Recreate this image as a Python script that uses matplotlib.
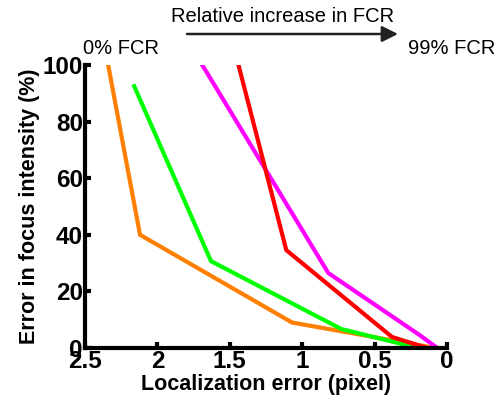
import matplotlib
matplotlib.use("Agg")
import matplotlib.pyplot as plt

plt.rcParams['font.family'] = ['Liberation Sans', 'DejaVu Sans']

orange_x = [2.34, 2.12, 1.07, 0.08]
orange_y = [100, 40, 9, 0]
green_x = [2.16, 1.63, 0.73, 0.20]
green_y = [92.5, 30.7, 6.7, 0]
magenta_x = [1.69, 0.82, 0.19, 0.08]
magenta_y = [100, 26.5, 4.6, 0.5]
red_x = [1.44, 1.11, 0.38, 0.15]
red_y = [100, 34.6, 3.9, 0.2]

xticks = [2.5, 2, 1.5, 1, 0.5, 0]
xticklabels = ['2.5', '2', '1.5', '1', '0.5', '0']
yticks = [0, 20, 40, 60, 80, 100]

fig = plt.figure(figsize=(4.96, 4.04), dpi=100)
ax = fig.add_axes([85/496, 1-348/404, (447-85)/496, (348-65)/404])

lw = 3
ax.plot(orange_x, orange_y, color='#FF8000', lw=lw, solid_joinstyle='miter')
ax.plot(green_x, green_y, color='#00FF00', lw=lw, solid_joinstyle='miter')
ax.plot(magenta_x, magenta_y, color='#FF00FF', lw=lw, solid_joinstyle='miter')
ax.plot(red_x, red_y, color='#FF0000', lw=lw, solid_joinstyle='miter')

ax.set_xlim(2.5, 0)
ax.set_ylim(0, 100)
ax.set_xticks(xticks)
ax.set_xticklabels(xticklabels)
ax.set_yticks(yticks)
for s in ['top', 'right']:
    ax.spines[s].set_visible(False)
for s in ['left', 'bottom']:
    ax.spines[s].set_linewidth(3)
ax.tick_params(direction='in', length=4.5, width=3, labelsize=17.5, pad=1.5)
for lab in ax.get_xticklabels() + ax.get_yticklabels():
    lab.set_fontweight('bold')

ax.set_xlabel('Localization error (pixel)', fontsize=15.5, fontweight='bold', labelpad=1)
ax.set_ylabel('Error in focus intensity (%)', fontsize=15.5, fontweight='bold', labelpad=2)

fig.text(283/496, 1-16/404, 'Relative increase in FCR', fontsize=14.5, ha='center', va='center')
fig.text(83/496, 1-48/404, '0% FCR', fontsize=14.5, ha='left', va='center')
fig.text(495/496, 1-48/404, '99% FCR', fontsize=14.5, ha='right', va='center')
fig.add_artist(matplotlib.patches.FancyArrowPatch(
    (187/496, 1-34/404), (398/496, 1-34/404), transform=fig.transFigure,
    arrowstyle='-|>,head_length=0.6,head_width=0.3', mutation_scale=16, lw=1.8,
    color='#222222', shrinkA=0, shrinkB=0))

fig.savefig('out.png', dpi=100)
